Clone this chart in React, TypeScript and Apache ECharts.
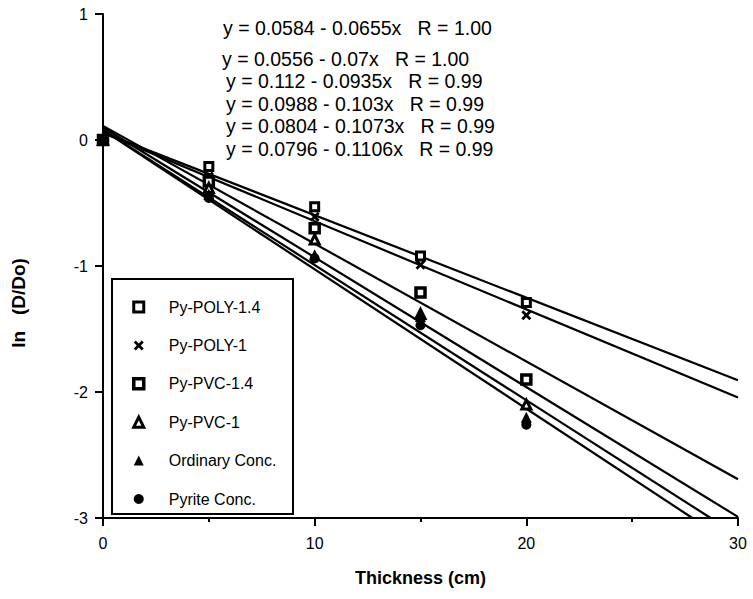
import React, { useEffect, useRef } from "react";
import * as echarts from "echarts";

const xValues = [0, 5, 10, 15, 20];
const seriesNames = [
  "Py-POLY-1.4",
  "Py-POLY-1",
  "Py-PVC-1.4",
  "Py-PVC-1",
  "Ordinary Conc.",
  "Pyrite Conc.",
];
const pyPoly14 = [0, -0.21, -0.53, -0.92, -1.29];
const pyPoly1 = [0, -0.29, -0.61, -0.99, -1.39];
const pyPvc14 = [0, -0.33, -0.7, -1.21, -1.9];
const pyPvc1 = [0, -0.38, -0.79, -1.38, -2.1];
const ordinaryConc = [0, -0.43, -0.91, -1.4, -2.2];
const pyriteConc = [0, -0.46, -0.94, -1.47, -2.26];

const fitIntercepts = [0.0584, 0.0556, 0.112, 0.0988, 0.0804, 0.0796];
const fitSlopes = [0.0655, 0.07, 0.0935, 0.103, 0.1073, 0.1106];
const fitR = ["1.00", "1.00", "0.99", "0.99", "0.99", "0.99"];

const xTicks = [0, 10, 20, 30];
const yTicks = [-3, -2, -1, 0, 1];

const FONT = "'Liberation Sans', Arial, Helvetica, sans-serif";

const X_PATH =
  "path://M0,2L2,0L5,3L8,0L10,2L7,5L10,8L8,10L5,7L2,10L0,8L3,5Z";

export default function App() {
  const ref = useRef<HTMLDivElement>(null);

  useEffect(() => {
    if (!ref.current) return;
    const chart = echarts.init(ref.current, undefined, { renderer: "svg" });

    const pointSets = [pyPoly14, pyPoly1, pyPvc14, pyPvc1, ordinaryConc, pyriteConc];
    const markerStyles: any[] = [
      { symbol: "rect", symbolSize: 8, itemStyle: { color: "#fff", borderColor: "#000", borderWidth: 3, opacity: 1 } },
      { symbol: X_PATH, symbolSize: 10, itemStyle: { color: "#000", opacity: 1 } },
      { symbol: "rect", symbolSize: 9, itemStyle: { color: "#fff", borderColor: "#000", borderWidth: 3.5, opacity: 1 } },
      { symbol: "triangle", symbolSize: 9, itemStyle: { color: "#fff", borderColor: "#000", borderWidth: 3, opacity: 1 } },
      { symbol: "triangle", symbolSize: 11, itemStyle: { color: "#000", opacity: 1 } },
      { symbol: "circle", symbolSize: 10, itemStyle: { color: "#000", opacity: 1 } },
    ];

    const xMin = xTicks[0];
    const xMax = xTicks[xTicks.length - 1];
    const yMin = yTicks[0];

    const lineSeries = fitIntercepts.map((b, i) => {
      const m = fitSlopes[i];
      const xEnd = Math.min(xMax, (b - yMin) / m);
      return {
        type: "line",
        name: "fit " + seriesNames[i],
        data: [
          [xMin, b],
          [xEnd, b - m * xEnd],
        ],
        symbol: "none",
        lineStyle: { color: "#000", width: 2.2 },
        z: 2,
        silent: true,
      };
    });

    const scatterSeries = pointSets.map((vals, i) => ({
      type: "scatter",
      name: seriesNames[i],
      data: vals.map((v, j) => [xValues[j], v]),
      ...markerStyles[i],
      clip: false,
      z: 3,
    }));

    const legendData = seriesNames.map((n, i) => ({
      name: n,
      itemStyle: {
        opacity: 1,
        borderWidth: markerStyles[i].itemStyle.borderWidth || 0,
        borderColor: "#000",
      },
    }));

    const equationTexts = fitIntercepts.map(
      (b, i) => `y = ${b} - ${fitSlopes[i]}x   R = ${fitR[i]}`
    );
    const eqPos = [
      [223, 28],
      [222, 59],
      [226, 81],
      [226, 104],
      [226, 126],
      [226, 149],
    ];

    chart.setOption({
      animation: false,
      backgroundColor: "#fff",
      grid: { left: 103, right: 15, top: 14, bottom: 81, containLabel: false },
      xAxis: {
        type: "value",
        min: xMin,
        max: xMax,
        interval: 10,
        name: "Thickness (cm)",
        nameLocation: "middle",
        nameGap: 51,
        nameTextStyle: { fontFamily: FONT, fontSize: 18, fontWeight: "bold", color: "#000" },
        axisLine: { show: true, onZero: false, lineStyle: { color: "#000", width: 2 } },
        axisTick: { show: true, length: 8, lineStyle: { color: "#000", width: 2 } },
        minorTick: { show: true, splitNumber: 2, length: 4, lineStyle: { color: "#000", width: 2 } },
        axisLabel: { fontFamily: FONT, fontSize: 16, color: "#000", margin: 17 },
        splitLine: { show: false },
      },
      yAxis: {
        type: "value",
        min: yMin,
        max: yTicks[yTicks.length - 1],
        interval: 1,
        axisLine: { show: true, onZero: false, lineStyle: { color: "#000", width: 2 } },
        axisTick: { show: true, length: 8, lineStyle: { color: "#000", width: 2 } },
        axisLabel: { fontFamily: FONT, fontSize: 16, color: "#000", margin: 15 },
        splitLine: { show: false },
      },
      legend: {
        orient: "vertical",
        left: 127,
        top: 294,
        itemWidth: 10,
        itemHeight: 10,
        itemGap: 22.4,
        selectedMode: false,
        data: legendData,
        textStyle: {
          fontFamily: FONT,
          fontSize: 16,
          color: "#000",
          lineHeight: 16,
          padding: [0, 0, 0, 20],
        },
      },
      graphic: [
        {
          type: "rect",
          shape: { x: 112, y: 279, width: 181, height: 235 },
          style: { fill: "#fff", stroke: "#000", lineWidth: 2 },
          z: 1,
          silent: true,
        },
        {
          type: "text",
          x: 18,
          y: 303,
          rotation: Math.PI / 2,
          style: {
            text: "ln   (D/Do)",
            fontFamily: FONT,
            fontSize: 19,
            fontWeight: "bold",
            fill: "#000",
            textAlign: "center",
            textVerticalAlign: "middle",
          },
        },
        ...equationTexts.map((t, i) => ({
          type: "text",
          x: eqPos[i][0],
          y: eqPos[i][1],
          style: {
            text: t,
            fontFamily: FONT,
            fontSize: 19.5,
            fill: "#000",
            textAlign: "left",
            textVerticalAlign: "middle",
          },
        })),
      ],
      series: [...lineSeries, ...scatterSeries],
    });

    return () => chart.dispose();
  }, []);

  return (
    <div
      ref={ref}
      style={{ position: "fixed", left: 0, top: 0, width: 753, height: 599 }}
    />
  );
}
